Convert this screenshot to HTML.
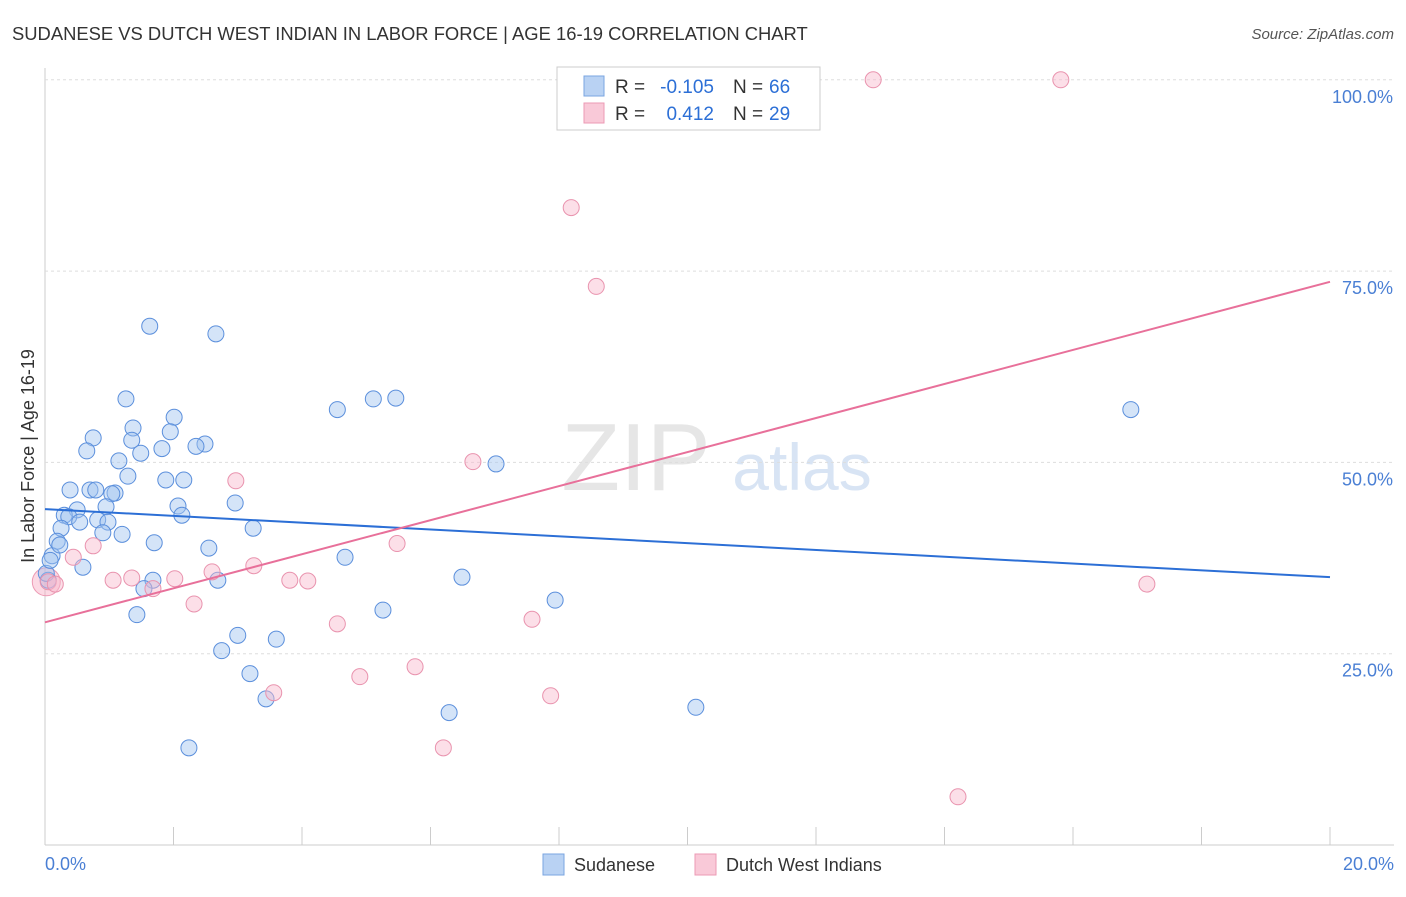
<!DOCTYPE html>
<html><head><meta charset="utf-8"><style>
body{margin:0;background:#fff;font-family:"Liberation Sans",sans-serif}
svg text{font-family:"Liberation Sans",sans-serif}
</style></head><body>
<svg id="c" width="1406" height="892">
<text x="12" y="40" font-size="18.4" fill="#333">SUDANESE VS DUTCH WEST INDIAN IN LABOR FORCE | AGE 16-19 CORRELATION CHART</text>
<text x="1394" y="39" font-size="15" fill="#555" font-style="italic" text-anchor="end">Source: ZipAtlas.com</text>
<text x="636" y="490" font-size="96" fill="#e6e6e6" font-family="Liberation Serif" text-anchor="middle">ZIP</text>
<text x="802" y="490" font-size="66" fill="#d8e4f4" text-anchor="middle">atlas</text>
<g id="grid"></g><g id="pts"></g><g id="lines"></g>
<text transform="translate(34,456) rotate(-90)" font-size="18" fill="#333" text-anchor="middle">In Labor Force | Age 16-19</text>
<text x="45" y="870" font-size="18" fill="#4a7fd4">0.0%</text>
<text x="1394" y="870" font-size="18" fill="#4a7fd4" text-anchor="end">20.0%</text>
<g>
<rect x="557" y="67" width="263" height="63" fill="#fff" stroke="#ccc"/>
<rect x="584" y="76" width="20" height="20" fill="#b9d2f3" stroke="#7aa5e0"/>
<rect x="584" y="103" width="20" height="20" fill="#f9c9d8" stroke="#ec9ab4"/>
<text x="615" y="93" font-size="19" fill="#333">R =</text>
<text x="714" y="93" font-size="19" fill="#2c6fd6" text-anchor="end">-0.105</text>
<text x="733" y="93" font-size="19" fill="#333">N =</text>
<text x="769" y="93" font-size="19" fill="#2c6fd6">66</text>
<text x="615" y="120" font-size="19" fill="#333">R =</text>
<text x="714" y="120" font-size="19" fill="#2c6fd6" text-anchor="end">0.412</text>
<text x="733" y="120" font-size="19" fill="#333">N =</text>
<text x="769" y="120" font-size="19" fill="#2c6fd6">29</text>
</g>
<g><rect x="543" y="854" width="21" height="21" fill="#b9d2f3" stroke="#7aa5e0"/><text x="574" y="871" font-size="18" fill="#333">Sudanese</text></g>
<g><rect x="695" y="854" width="21" height="21" fill="#f9c9d8" stroke="#ec9ab4"/><text x="726" y="871" font-size="18" fill="#333">Dutch West Indians</text></g>
</svg>
<script>
const yTicks=[25,50,75,100];
const blueX=[1.63,2.66,1.26,2.01,1.37,1.95,0.75,1.35,2.49,2.35,1.82,0.65,1.49,1.15,1.29,1.88,2.16,0.39,0.70,0.79,1.09,1.04,2.07,2.96,0.95,0.50,0.30,0.37,2.13,0.82,0.54,0.98,0.25,3.24,1.20,0.90,0.19,1.70,2.55,0.11,4.67,0.59,1.68,2.69,6.49,1.54,5.26,7.94,1.43,3.00,3.60,2.75,3.19,3.44,6.29,10.13,2.24,4.55,5.11,5.46,7.02,16.90,0.05,0.02,0.08,0.23];
const blueY=[67.8,66.8,58.3,55.9,54.5,54.0,53.2,52.9,52.4,52.1,51.8,51.5,51.2,50.2,48.2,47.7,47.7,46.4,46.4,46.4,46.0,45.9,44.3,44.7,44.2,43.8,43.1,42.9,43.1,42.5,42.2,42.2,41.4,41.4,40.6,40.8,39.7,39.5,38.8,37.8,37.6,36.3,34.6,34.6,35.0,33.5,30.7,32.0,30.1,27.4,26.9,25.4,22.4,19.1,17.3,18.0,12.7,56.9,58.3,58.4,49.8,56.9,34.6,35.5,37.2,39.2];
const pinkX=[12.89,15.81,8.19,8.58,6.66,2.97,5.48,0.75,0.44,3.25,2.60,1.06,1.35,2.02,3.81,4.09,1.68,2.32,4.55,7.58,17.15,5.76,4.90,3.56,7.87,6.20,14.21,0.05,0.16];
const pinkY=[100,100,83.3,73.0,50.1,47.6,39.4,39.1,37.6,36.5,35.7,34.6,34.9,34.8,34.6,34.5,33.5,31.5,28.9,29.5,34.1,23.3,22.0,19.9,19.5,12.7,6.3,34.4,34.1];
const blueTrend=[43.9,35.0], pinkTrend=[29.1,73.6];
const X=v=>45+v*64.25, Y=v=>845-v*7.652;
const NS="http://www.w3.org/2000/svg";
function mk(t,a,p){const e=document.createElementNS(NS,t);for(const k in a)e.setAttribute(k,a[k]);p.appendChild(e);return e;}
const g=document.getElementById('grid');
mk('line',{x1:45,y1:68,x2:45,y2:845,stroke:'#ccc'},g);
mk('line',{x1:45,y1:845,x2:1394,y2:845,stroke:'#ccc'},g);
for(let i=1;i<=10;i++){mk('line',{x1:45+i*128.5,y1:827,x2:45+i*128.5,y2:845,stroke:'#ccc'},g);}
yTicks.forEach(t=>{
 const l=mk('line',{x1:45,y1:Y(t),x2:1394,y2:Y(t),stroke:'#ddd','stroke-dasharray':'3,3'},g);
 
 
 const tx=mk('text',{x:1393,y:Y(t)+23,'font-size':18,fill:'#4a7fd4','text-anchor':'end'},g);
 tx.textContent=t.toFixed(1)+'%';
 
 
});
const p=document.getElementById('pts');
const big1=mk('circle',{cx:X(0.02),cy:Y(34.4),r:14,fill:'rgba(249,170,195,0.45)',stroke:'#ec9ab4'},p);


blueX.forEach((v,i)=>{
 const c=mk('circle',{cx:X(v),cy:Y(blueY[i]),r:8,fill:'rgba(160,195,240,0.45)',stroke:'#5b8fdc','stroke-width':1},p);
 
 
});
pinkX.forEach((v,i)=>{
 const c=mk('circle',{cx:X(v),cy:Y(pinkY[i]),r:8,fill:'rgba(249,185,205,0.45)',stroke:'#e993ae','stroke-width':1},p);
 
 
});
const L=document.getElementById('lines');
const bl=mk('line',{x1:X(0),y1:Y(blueTrend[0]),x2:X(20),y2:Y(blueTrend[1]),stroke:'#2c6fd6','stroke-width':2},L);


const pl=mk('line',{x1:X(0),y1:Y(pinkTrend[0]),x2:X(20),y2:Y(pinkTrend[1]),stroke:'#e8709a','stroke-width':2},L);


</script>
</body></html>
